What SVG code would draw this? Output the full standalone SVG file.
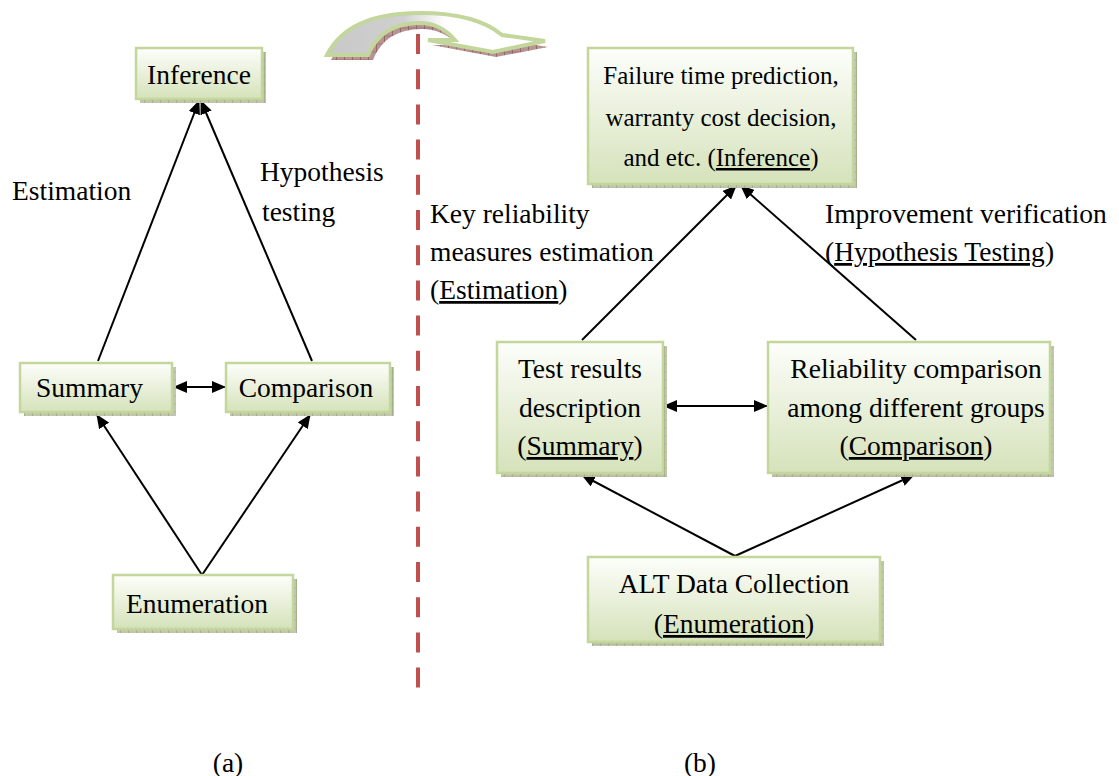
<svg xmlns="http://www.w3.org/2000/svg" width="1119" height="776" viewBox="0 0 1119 776">
<style>
text{font-family:"Liberation Serif","Times New Roman","DejaVu Serif",serif;font-size:27.5px;fill:#000}
.s{font-size:25px}
.c{text-anchor:middle}
.box{fill:url(#g);stroke:#c3d69b;stroke-width:2.5}
.sh{fill:url(#hatch)}
.ln{stroke:#000;stroke-width:2;fill:none}
.u{text-decoration:underline}
</style>
<defs>
<linearGradient id="g" x1="0" y1="0" x2="0" y2="1">
<stop offset="0" stop-color="#fdfefb"/>
<stop offset="1" stop-color="#d5e2ba"/>
</linearGradient>
<linearGradient id="ag" x1="0" y1="0" x2="1" y2="0">
<stop offset="0" stop-color="#c8c8c8"/>
<stop offset="0.35" stop-color="#d0d0d0"/>
<stop offset="0.55" stop-color="#ffffff"/>
</linearGradient>
<pattern id="hatch" width="8" height="8" patternUnits="userSpaceOnUse">
<rect width="8" height="8" fill="#c2c7ab"/>
<line x1="0" y1="0" x2="0" y2="8" stroke="#8e9676" stroke-width="1"/>
<line x1="0" y1="4" x2="8" y2="4" stroke="#a5ab8b" stroke-width="0.6"/>
</pattern>
<pattern id="hatch2" width="8" height="8" patternUnits="userSpaceOnUse">
<rect width="8" height="8" fill="#b59494"/>
<line x1="0" y1="0" x2="0" y2="8" stroke="#7a3a3a" stroke-width="1"/>
<line x1="0" y1="4" x2="8" y2="4" stroke="#946060" stroke-width="0.6"/>
</pattern>
<marker id="ah" viewBox="0 0 14 12" refX="13" refY="6" markerWidth="14" markerHeight="12" markerUnits="userSpaceOnUse" orient="auto-start-reverse">
<path d="M0 0 L14 6 L0 12 Z" fill="#000"/>
</marker>
</defs>

<!-- divider and curved arrow -->
<line x1="418" y1="34" x2="418" y2="690" stroke="#c0504d" stroke-width="4" stroke-dasharray="20 15.2"/>
<g id="curved-arrow">
<path d="M331 60 Q352 18 422 18 Q478 18 505 40 L548 47 L496 57 L432 45 L459 45 Q442 29 422 29 Q385 29 373 60 Z" fill="url(#hatch2)"/>
<path d="M327 55 Q348 13 420 13 Q476 13 502 35 L545 41 L493 52 L428 40 L455 40 Q440 23 420 23 Q381 23 368 55 Z" fill="url(#ag)" stroke="#c3d69b" stroke-width="4" stroke-linejoin="miter"/>
</g>

<!-- connectors -->
<g id="connectors">
<line class="ln" x1="98" y1="361" x2="199" y2="101" marker-end="url(#ah)"/>
<line class="ln" x1="312" y1="361" x2="201" y2="101" marker-end="url(#ah)"/>
<line class="ln" x1="174" y1="387" x2="225" y2="387" marker-start="url(#ah)" marker-end="url(#ah)"/>
<line class="ln" x1="202" y1="575" x2="97" y2="415" marker-end="url(#ah)"/>
<line class="ln" x1="202" y1="575" x2="310" y2="415" marker-end="url(#ah)"/>
<line class="ln" x1="582" y1="340" x2="736" y2="186" marker-end="url(#ah)"/>
<line class="ln" x1="916" y1="340" x2="741" y2="186" marker-end="url(#ah)"/>
<line class="ln" x1="664" y1="406" x2="767" y2="406" marker-start="url(#ah)" marker-end="url(#ah)"/>
<line class="ln" x1="735" y1="556" x2="582" y2="475" marker-end="url(#ah)"/>
<line class="ln" x1="735" y1="556" x2="914" y2="475" marker-end="url(#ah)"/>
</g>

<!-- left diagram nodes -->
<g id="a-inference">
<rect class="sh" x="140" y="52" width="126" height="51"/>
<rect class="box" x="136" y="48" width="126" height="51"/>
<text class="c" x="199" y="84">Inference</text>
</g>
<g id="a-summary">
<rect class="sh" x="24" y="367" width="152" height="49"/>
<rect class="box" x="20" y="363" width="152" height="49"/>
<text x="36" y="397">Summary</text>
</g>
<g id="a-comparison">
<rect class="sh" x="230" y="367" width="164" height="49"/>
<rect class="box" x="226" y="363" width="164" height="49"/>
<text class="c" x="306" y="397">Comparison</text>
</g>
<g id="a-enumeration">
<rect class="sh" x="117" y="579" width="180" height="54"/>
<rect class="box" x="113" y="575" width="180" height="54"/>
<text class="c" x="197" y="613">Enumeration</text>
</g>
<g id="a-labels">
<text x="12" y="200">Estimation</text>
<text x="260" y="181">Hypothesis</text>
<text x="262" y="221">testing</text>
<text class="c" x="228" y="772">(a)</text>
</g>

<!-- right diagram nodes -->
<g id="b-inference">
<rect class="sh" x="592" y="52" width="265" height="136"/>
<rect class="box" x="588" y="48" width="265" height="136"/>
<text class="c s" x="721" y="84">Failure time prediction,</text>
<text class="c s" x="721" y="126">warranty cost decision,</text>
<text class="c s" x="721" y="166">and etc. (<tspan class="u">Inference</tspan>)</text>
</g>
<g id="b-summary">
<rect class="sh" x="501" y="346" width="166" height="131"/>
<rect class="box" x="497" y="342" width="166" height="131"/>
<text class="c" x="580" y="378">Test results</text>
<text class="c" x="580" y="417">description</text>
<text class="c" x="580" y="455">(<tspan class="u">Summary</tspan>)</text>
</g>
<g id="b-comparison">
<rect class="sh" x="772" y="346" width="282" height="131"/>
<rect class="box" x="768" y="342" width="282" height="131"/>
<text class="c" x="916" y="378">Reliability comparison</text>
<text class="c" x="916" y="417">among different groups</text>
<text class="c" x="916" y="455">(<tspan class="u">Comparison</tspan>)</text>
</g>
<g id="b-enumeration">
<rect class="sh" x="592" y="561" width="292" height="85"/>
<rect class="box" x="588" y="557" width="292" height="85"/>
<text class="c" x="734" y="593">ALT Data Collection</text>
<text class="c" x="734" y="633">(<tspan class="u">Enumeration</tspan>)</text>
</g>
<g id="b-labels">
<text x="430" y="223">Key reliability</text>
<text x="430" y="261">measures estimation</text>
<text x="430" y="299">(<tspan class="u">Estimation</tspan>)</text>
<text x="825" y="223">Improvement verification</text>
<text x="825" y="261">(<tspan class="u">Hypothesis Testing</tspan>)</text>
<text class="c" x="700" y="772">(b)</text>
</g>
</svg>
